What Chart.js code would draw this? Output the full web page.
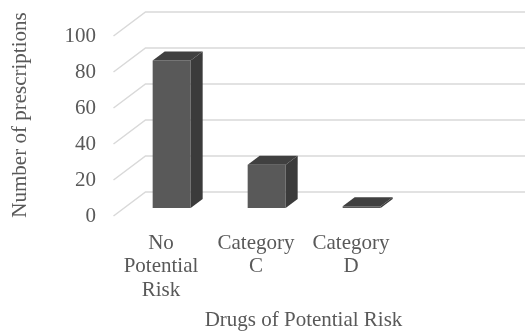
<!DOCTYPE html>
<html>
<head>
<meta charset="utf-8">
<script src="https://cdn.jsdelivr.net/npm/chart.js@4.4.1/dist/chart.umd.min.js"></script>
<style>
  html, body { margin: 0; padding: 0; background: #ffffff; }
  #wrap { width: 525px; height: 332px; }
</style>
</head>
<body>
<div id="wrap"><canvas id="chart" width="525" height="332"></canvas></div>
<script>
// Prescriptions per risk category (last slot is an empty column of the sheet)
const categories = [["No", "Potential", "Risk"], ["Category", "C"], ["Category", "D"], ""];
const prescriptions = [82, 24, 1, null];
const yMin = 0;
const yMax = 100;
const yStep = 20;

const TEXT = '#595959';
const FONT = 'Liberation Serif, "Times New Roman", serif';

// 3D projection: floor depth vector (front -> back wall), bar plane and bar depth
const DEPTH = { dx: 32, dy: -24 };
const BAR_PLANE = 1 / 3;          // fraction of depth where bar front faces sit
const BAR_DEPTH = 0.375;          // bar thickness as fraction of depth

const threeD = {
  id: 'threeD',
  beforeDatasetsDraw(chart) {
    const { ctx, chartArea, scales: { y } } = chart;
    // walls: side wall diagonals + back wall horizontals
    ctx.save();
    ctx.strokeStyle = '#d9d9d9';
    ctx.lineWidth = 1.5;
    y.ticks.forEach(t => {
      const py = y.getPixelForValue(t.value);
      ctx.beginPath();
      ctx.moveTo(chartArea.left, py);
      ctx.lineTo(chartArea.left + DEPTH.dx, py + DEPTH.dy);
      ctx.lineTo(chart.width, py + DEPTH.dy);
      ctx.stroke();
    });
    ctx.restore();
    // shift bars into their depth plane
    ctx.save();
    ctx.translate(DEPTH.dx * BAR_PLANE, DEPTH.dy * BAR_PLANE);
  },
  afterDatasetsDraw(chart) {
    const { ctx } = chart;
    const ox = DEPTH.dx * BAR_DEPTH, oy = DEPTH.dy * BAR_DEPTH;
    chart.getDatasetMeta(0).data.forEach((bar, i) => {
      if (prescriptions[i] == null) return;
      const { x, y, base, width } = bar.getProps(['x', 'y', 'base', 'width'], true);
      const l = x - width / 2, r = x + width / 2;
      // side face
      ctx.fillStyle = '#3b3b3b';
      ctx.beginPath();
      ctx.moveTo(r, y);
      ctx.lineTo(r + ox, y + oy);
      ctx.lineTo(r + ox, base + oy);
      ctx.lineTo(r, base);
      ctx.closePath();
      ctx.fill();
      // top face
      ctx.fillStyle = '#404040';
      ctx.beginPath();
      ctx.moveTo(l, y);
      ctx.lineTo(l + ox, y + oy);
      ctx.lineTo(r + ox, y + oy);
      ctx.lineTo(r, y);
      ctx.closePath();
      ctx.fill();
    });
    ctx.restore();
  },
  afterDraw(chart) {
    // vertical axis title
    const { ctx } = chart;
    ctx.save();
    ctx.translate(20.5, 115);
    ctx.rotate(-Math.PI / 2);
    ctx.fillStyle = TEXT;
    ctx.font = '21px ' + FONT;
    ctx.textAlign = 'center';
    ctx.textBaseline = 'middle';
    ctx.fillText('Number of prescriptions', 0, 0);
    ctx.restore();
  }
};

new Chart(document.getElementById('chart'), {
  type: 'bar',
  data: {
    labels: categories,
    datasets: [{
      data: prescriptions,
      backgroundColor: '#595959',
      borderWidth: 0,
      barPercentage: 0.4,
      categoryPercentage: 1,
      clip: false
    }]
  },
  options: {
    responsive: false,
    animation: false,
    devicePixelRatio: 1,
    layout: { padding: { top: 36, right: 31.5, left: 0, bottom: 0 } },
    plugins: { legend: { display: false }, tooltip: { enabled: false } },
    scales: {
      x: {
        grid: { display: false, drawTicks: false },
        border: { display: false },
        ticks: {
          color: TEXT,
          font: { family: FONT, size: 21, lineHeight: 1.12 },
          padding: 15.25,
          maxRotation: 0,
          autoSkip: false
        },
        title: {
          display: true,
          text: 'Drugs of Potential Risk',
          color: TEXT,
          font: { family: FONT, size: 21, lineHeight: 1.05 },
          padding: { top: 8.25, bottom: 0 }
        },
        afterFit(s) { s.height = 116; }
      },
      y: {
        min: yMin,
        max: yMax,
        grid: { display: false, drawTicks: false },
        border: { display: false },
        ticks: {
          stepSize: yStep,
          color: TEXT,
          font: { family: FONT, size: 21 },
          padding: 17.5
        },
        afterFit(s) { s.width = 113.5; }
      }
    }
  },
  plugins: [threeD]
});
</script>
</body>
</html>
